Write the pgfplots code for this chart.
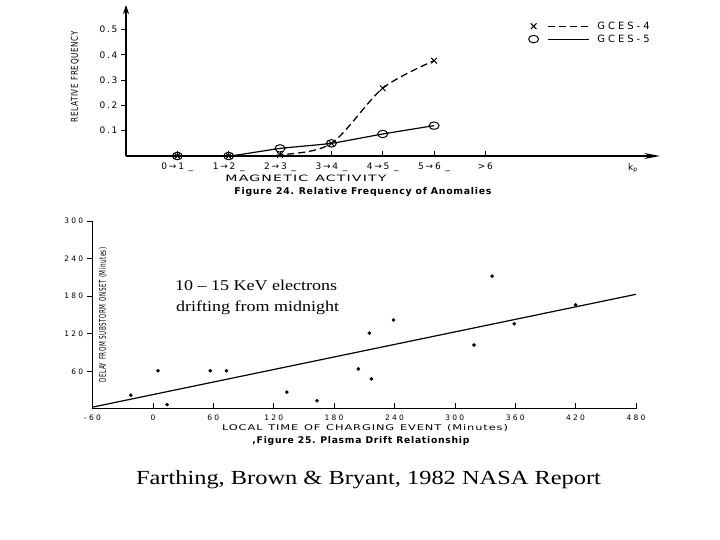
\documentclass[border=0pt]{standalone}
\usepackage{pgfplots}
\pgfplotsset{compat=1.18}
\usepackage{fontspec}
\usepackage{graphicx}
\usetikzlibrary{arrows.meta}
\setmainfont{Liberation Serif}
\newfontfamily\scan[LetterSpace=8]{DejaVu Sans}
\newfontfamily\scanA[LetterSpace=20]{DejaVu Sans}
\newfontfamily\scanB[LetterSpace=30]{DejaVu Sans}
\newcommand\wsp{\hspace{5pt}}

\begin{document}
\begin{tikzpicture}[x=1pt,y=1pt]
\useasboundingbox (0,0) rectangle (720,540);

% ---- Figure 24: relative frequency of anomalies
\begin{axis}[
  at={(126pt,384pt)}, anchor=south west,
  scale only axis, width=534pt, height=151pt,
  xmin=0, xmax=10.4, ymin=0, ymax=0.597,
  clip=false,
  axis lines=left,
  x axis line style={line width=1.3pt, -{Stealth[length=16pt,width=6pt]}},
  y axis line style={line width=1.3pt, -{Stealth[length=9pt,width=6pt]}},
  xtick={1,...,7},
  xticklabels={0→1 \_, 1→2 \_, 2→3 \_, 3→4 \_, 4→5 \_, 5→6 \_, >6},
  ytick={0.1,0.2,0.3,0.4,0.5},
  yticklabels={0.1,0.2,0.3,0.4,0.5},
  tick align=outside, major tick length=5pt,
  every tick/.style={black, line width=0.8pt},
  every x tick/.append style={yshift=5pt},
  tick label style={font=\scanA\fontsize{9}{9}\selectfont},
  xticklabel style={yshift=2pt},
  reverse legend,
  legend cell align=left,
  legend style={at={(rel axis cs:0.748,0.917)}, anchor=north west, draw=none, fill=none,
    font=\scanB\fontsize{10}{10}\selectfont, row sep=0pt,
    /tikz/every odd column/.append style={column sep=6pt}},
  legend image code/.code={
    \draw[#1, sharp plot] plot coordinates {(0pt,0pt)};
    \draw[#1, mark=none, sharp plot] (14pt,0pt) -- (55pt,0pt);
  },
]
\addplot[black, line width=1.2pt, smooth, tension=0.3,
  mark=o, mark size=5pt, mark options={yscale=0.75, line width=1pt, fill=white}]
  coordinates {(1,0)(2,0)(3,0.03)(4,0.05)(5,0.087)(6,0.12)};
\addlegendentry{GCES-5}
\addplot[black, line width=1.3pt, dash pattern=on 7pt off 4pt, smooth, tension=0.5,
  mark=x, mark size=4pt, mark options={solid, line width=1pt}]
  coordinates {(1,0)(2,0)(3,0.004)(4,0.05)(5,0.268)(6,0.377)};
\addlegendentry{GCES-4}
\end{axis}

\node[font=\scanB\fontsize{9}{9}\selectfont] at (633,372) {k\textsubscript{p}};
\node[rotate=90] at (75,463) {\resizebox{91pt}{7pt}{\scan RELATIVE\wsp FREQUENCY}};
\node at (306,362) {\resizebox{161pt}{6.5pt}{\scan MAGNETIC\wsp ACTIVITY}};
\node at (363,348) {\resizebox{257pt}{!}{\scan\bfseries Figure 24.\wsp Relative Frequency of Anomalies}};

% ---- Figure 25: plasma drift relationship
\begin{axis}[
  at={(92.6pt,131pt)}, anchor=south west,
  scale only axis, width=543.4pt, height=188pt,
  xmin=-60, xmax=480, ymin=0, ymax=300,
  clip=false,
  axis lines=left,
  axis line style={line width=1pt, -},
  xtick={-60,0,60,120,180,240,300,360,420,480},
  xticklabels={-60,0,60,120,180,240,300,360,420,480},
  ytick={60,120,180,240,300},
  yticklabels={60,120,180,240,300},
  tick align=outside, major tick length=6pt,
  every tick/.style={black, line width=0.7pt},
  every x tick/.append style={yshift=6pt},
  tick label style={font=\scanB\fontsize{7.5}{7.5}\selectfont},
  xticklabel style={yshift=4pt},
]
\addplot[black, line width=1.2pt] coordinates {(-60,3)(480,183)};
\addplot[only marks, mark=*, mark size=1.6pt, black]
  coordinates {(-22,22)(5,61)(14,7)(57,61)(73,61)(133,27)(163,13)(204,64)
               (215,121)(217,48)(239,142)(319,102)(337,212)(359,136)(420,166)};
\end{axis}

\node[rotate=90] at (103,225) {\resizebox{135pt}{7pt}{\scan DELAY\wsp FROM\wsp SUBSTORM\wsp ONSET\wsp (Minutes)}};
\node at (365,112) {\resizebox{286pt}{6pt}{\scan LOCAL\wsp TIME\wsp OF\wsp CHARGING\wsp EVENT\wsp (Minutes)}};
\node at (361,99) {\resizebox{217pt}{!}{\scan\bfseries ,Figure 25.\wsp Plasma Drift Relationship}};

\node[anchor=base west, inner sep=0pt] at (175,249)
  {\scalebox{1.2}[1]{\fontsize{15}{15}\selectfont 10 – 15 KeV electrons}};
\node[anchor=base west, inner sep=0pt] at (176,228)
  {\scalebox{1.2}[1]{\fontsize{15}{15}\selectfont drifting from midnight}};

\node[anchor=base, inner sep=0pt] at (368.5,55)
  {\scalebox{1.22}[1]{\fontsize{20}{20}\selectfont Farthing, Brown \& Bryant, 1982 NASA Report}};
\end{tikzpicture}
\end{document}
